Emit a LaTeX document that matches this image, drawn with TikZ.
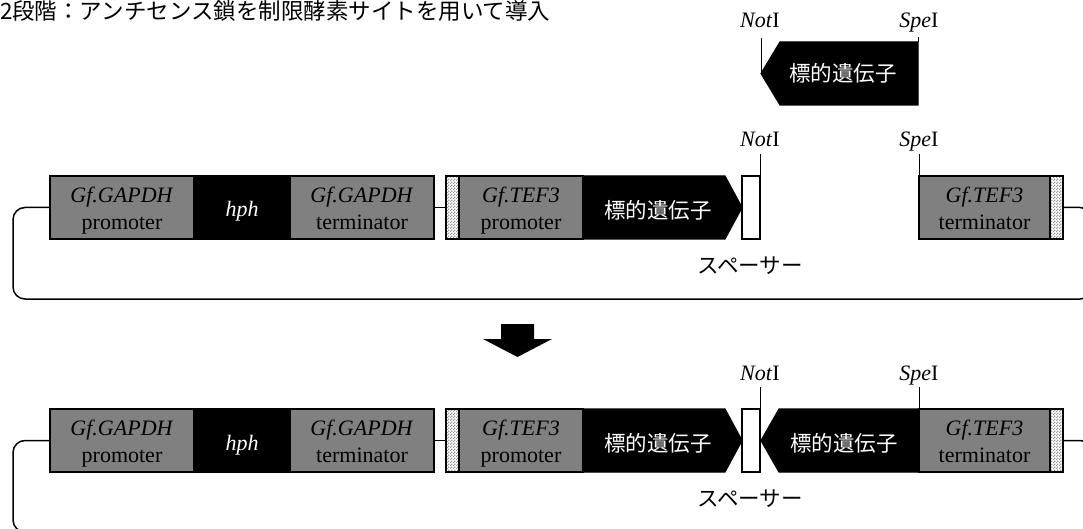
\documentclass[tikz,border=0pt]{standalone}
\usepackage{fontspec}
\setmainfont{Liberation Serif}
\newfontfamily\jpfont{Noto Sans CJK JP}
\usetikzlibrary{patterns,calc}
\definecolor{boxgray}{HTML}{808080}
\pgfdeclarepatternformonly{finecheck}{\pgfqpoint{0pt}{0pt}}{\pgfqpoint{3pt}{3pt}}{\pgfqpoint{3pt}{3pt}}{%
  \pgfpathrectangle{\pgfqpoint{0pt}{0pt}}{\pgfqpoint{1.5pt}{1.5pt}}%
  \pgfpathrectangle{\pgfqpoint{1.5pt}{1.5pt}}{\pgfqpoint{1.5pt}{1.5pt}}%
  \pgfusepath{fill}}
\newcommand\twoln[4]{%
  \node[tm, anchor=base] (#1a) at ($(#2)+(0,-5)$) {\textit{#3}};
  \node[tm, anchor=base] (#1b) at ($(#2)+(0,22)$) {#4};}
\begin{document}
\begin{tikzpicture}[x=1pt,y=-1pt,
  every node/.style={inner sep=0pt, outer sep=0pt},
  blk/.style={draw=black, line width=1.2pt, minimum height=63pt, anchor=west},
  gbox/.style={blk, fill=boxgray},
  kbox/.style={blk, fill=black},
  wbox/.style={blk, fill=white},
  hbox/.style={blk, preaction={fill=white}, pattern=finecheck, pattern color=gray!80},
  tm/.style={font=\fontsize{22}{26}\selectfont, text=black},
  jp/.style={font=\jpfont\fontsize{21.5}{26}\selectfont},
  wire/.style={line width=1.5pt, draw=black},
  site/.style={line width=1pt, draw=black},
  gene/.style={fill=black, draw=black, line width=1.2pt, line join=miter},
]
\useasboundingbox (0,0) rectangle (1083,529);
\clip (0,0) rectangle (1083,529);

% title
\node[jp, font=\jpfont\fontsize{22.5}{26}\selectfont, anchor=base west] (title) at (0,20) {2段階：アンチセンス鎖を制限酵素サイトを用いて導入};

% excised fragment (top)
\fill[gene] (918,42) -- (780,42) -- (761,73.5) -- (780,105) -- (918,105) -- cycle;
\node[jp, text=white] (fragt) at (843,73.5) {標的遺伝子};
\coordinate (fragtip) at (761,73.5);
\coordinate (fragse) at (918,42);
\draw[site] (fragtip) -- ++(0,-35.5) coordinate (fn);
\draw[site] (fragse) -- ++(0,-5) coordinate (fs);
\node[tm, anchor=base] (fragnot) at ($(fn)+(-1,-10)$) {\textit{Not}I};
\node[tm, anchor=base] (fragspe) at ($(fs)+(1,-9)$) {\textit{Spe}I};

% two constructs
\foreach \r/\y/\b in {1/207.5/299, 2/440.5/532} {
  \draw[wire, rounded corners=12pt] (50,\y) -- (13,\y) -- (13,\b) -- (1092,\b) -- (1092,\y) -- (1063,\y);
  \node[gbox, minimum width=144] (gp\r) at (50,\y) {};
  \node[kbox, minimum width=96] (hph\r) at (194,\y) {};
  \node[gbox, minimum width=144] (gt\r) at (290,\y) {};
  \draw[wire] (gt\r.east) -- (446,\y);
  \node[hbox, minimum width=13] (ha\r) at (446,\y) {};
  \node[gbox, minimum width=124] (tp\r) at (459,\y) {};
  \fill[gene] (583,\y-31.5) -- (725,\y-31.5) -- (742,\y) -- (725,\y+31.5) -- (583,\y+31.5) -- cycle;
  \node[jp, text=white] (tg\r) at (658,\y+2.5) {標的遺伝子};
  \node[wbox, minimum width=18] (sp\r) at (742,\y) {};
  \node[gbox, minimum width=131] (tt\r) at (919,\y) {};
  \node[hbox, minimum width=13] (hb\r) at (1050,\y) {};
  \twoln{gpl\r}{gp\r.center}{Gf.GAPDH}{promoter}
  \node[tm, anchor=base, text=white] (hphl\r) at ($(hph\r.center)+(0,9.5)$) {\textit{hph}};
  \twoln{gtl\r}{gt\r.center}{Gf.GAPDH}{terminator}
  \twoln{tpl\r}{tp\r.center}{Gf.TEF3}{promoter}
  \twoln{ttl\r}{tt\r.center}{Gf.TEF3}{terminator}
  \draw[site] (sp\r.north east) -- ++(0,-22) coordinate (n\r);
  \draw[site] (tt\r.north west) -- ++(0,-22) coordinate (s\r);
  \node[tm, anchor=base] (notl\r) at ($(n\r)+(0,-7)$) {\textit{Not}I};
  \node[tm, anchor=base] (spel\r) at ($(s\r)+(0,-7)$) {\textit{Spe}I};
  \node[jp] (spl\r) at ($(sp\r.south)+(-1,27)$) {スペーサー};
}

% inserted antisense gene (row 2)
\fill[gene] (919,409) -- (779,409) -- (761,440.5) -- (779,472) -- (919,472) -- cycle;
\node[jp, text=white] (tgr) at (844,443) {標的遺伝子};

% down arrow
\fill[black] (501,324) -- (534,324) -- (534,339) -- (552,339) -- (517.5,357) -- (483,339) -- (501,339) -- cycle;
\end{tikzpicture}
\end{document}
